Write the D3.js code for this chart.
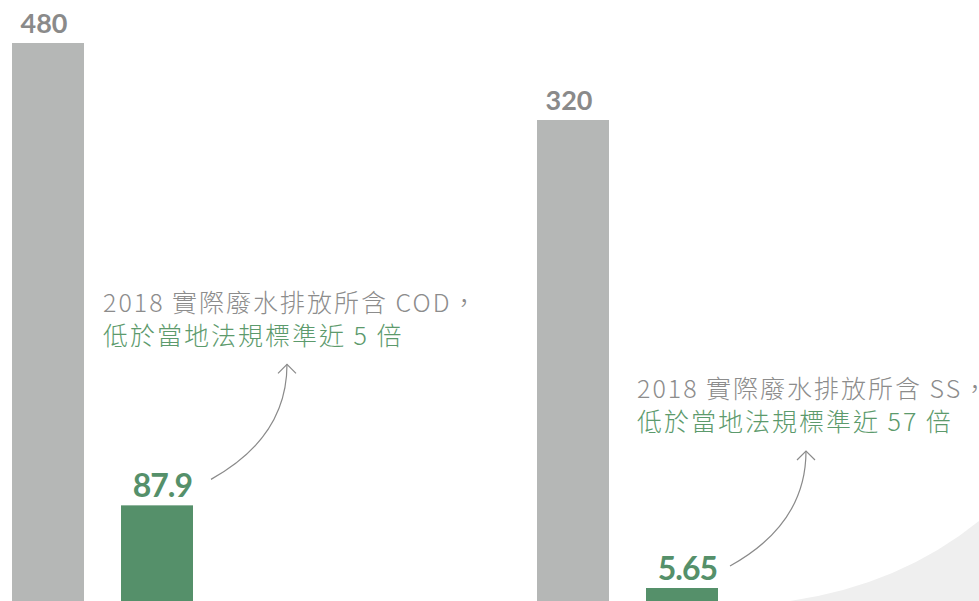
<!DOCTYPE html>
<html>
<head>
<meta charset="utf-8">
<script src="https://cdn.jsdelivr.net/npm/d3@7"></script>
<style>
    html, body { margin: 0; padding: 0; background: #ffffff; overflow: hidden; }
    .note { font-family: "Noto Sans CJK TC", "Noto Sans", sans-serif; font-weight: 300; font-size: 25px; letter-spacing: 2px; }
    .limit-label { font-family: Lato, "Noto Sans", sans-serif; font-weight: 700; font-size: 27px; fill: #8a8a8a; }
    .actual-label { font-family: Lato, "Noto Sans", sans-serif; font-weight: 700; font-size: 32px; fill: #55906a; letter-spacing: -1px; }
</style>
</head>
<body>
<script>
    // Pollutants and values (mg/L)
    var pollutants = ["COD", "SS"];
    var limitValues = [480, 320];      // local regulation standard
    var actualValues = [87.9, 5.65];   // 2018 actual discharge

    var noteLine1 = ["2018 實際廢水排放所含 COD，", "2018 實際廢水排放所含 SS，"];
    var noteLine2 = ["低於當地法規標準近 5 倍", "低於當地法規標準近 57 倍"];

    var width = 979;
    var height = 601;
    var baseline = 609;
    var barWidth = 72;
    var minBarHeight = 21;

    var svg = d3.select("body")
        .append("svg")
        .attr("width", width)
        .attr("height", height);

    // Light background swoosh, bottom right
    svg.append("path")
        .attr("d", "M790,601 Q900,585 979,521 L979,601 Z")
        .style("fill", "#efefef");

    // Group positions
    var groupX = d3.scalePoint()
        .domain(pollutants)
        .range([12, 537]);

    // Each pollutant has its own vertical scale
    var topY = { COD: 43, SS: 120 };
    var yScales = pollutants.map(function (p, i) {
        return d3.scaleLinear()
            .domain([0, limitValues[i]])
            .range([baseline, topY[p]]);
    });

    var data = pollutants.map(function (p, i) {
        return { name: p, limit: limitValues[i], actual: actualValues[i], y: yScales[i], i: i };
    });

    var gap = 37;

    var groups = svg.selectAll(".group")
        .data(data)
        .enter()
        .append("g")
        .attr("class", "group")
        .attr("transform", function (d) { return "translate(" + groupX(d.name) + ",0)"; });

    // Limit bars (gray)
    groups.append("rect")
        .attr("x", 0)
        .attr("width", barWidth)
        .attr("y", function (d) { return d.y(d.limit); })
        .attr("height", function (d) { return baseline - d.y(d.limit); })
        .style("fill", "#b5b7b6");

    groups.append("text")
        .attr("class", "limit-label")
        .attr("x", barWidth / 2 - 4)
        .attr("y", function (d) { return d.y(d.limit) - 10; })
        .attr("text-anchor", "middle")
        .text(function (d) { return d.limit; });

    // Actual bars (green), with a minimum visible height
    function actualTop(d) {
        return Math.min(d.y(d.actual), baseline - minBarHeight);
    }

    groups.append("rect")
        .attr("x", barWidth + gap)
        .attr("width", barWidth)
        .attr("y", actualTop)
        .attr("height", function (d) { return baseline - actualTop(d); })
        .style("fill", "#55906a");

    groups.append("text")
        .attr("class", "actual-label")
        .attr("x", barWidth * 2 + gap - 1)
        .attr("y", function (d) { return actualTop(d) - 8; })
        .attr("text-anchor", "end")
        .text(function (d) { return d.actual; });

    // Notes
    var notes = groups.append("text")
        .attr("class", "note")
        .attr("x", function (d) { return d.i === 0 ? 91 : 100; })
        .attr("y", function (d) { return d.i === 0 ? 312 : 398; });

    notes.append("tspan")
        .style("fill", "#8c8c8c")
        .text(function (d) { return noteLine1[d.i]; });

    notes.append("tspan")
        .attr("x", function (d) { return d.i === 0 ? 91 : 100; })
        .attr("dy", 33)
        .style("fill", "#5c9a6c")
        .text(function (d) { return noteLine2[d.i]; });

    // Curved arrows from green label up to the note
    var arrowDx = [90, 84];
    var arrowDy = [-26, -22];

    function arrowStart(d) {
        return [barWidth + gap + arrowDx[d.i], actualTop(d) + arrowDy[d.i]];
    }

    function arrowPath(d) {
        var s = arrowStart(d);
        var x1 = s[0] + 76;
        var y1 = s[1] - 115;
        return "M" + s[0] + "," + s[1] + " Q" + x1 + "," + (s[1] - 42) + " " + x1 + "," + y1;
    }

    function arrowHead(d) {
        var s = arrowStart(d);
        var x1 = s[0] + 76;
        var y1 = s[1] - 115;
        return "M" + (x1 - 9) + "," + (y1 + 9) + " L" + x1 + "," + y1 + " L" + (x1 + 9) + "," + (y1 + 9);
    }

    groups.append("path")
        .attr("d", arrowPath)
        .style("fill", "none")
        .style("stroke", "#8a8a8a")
        .style("stroke-width", 1.2);

    groups.append("path")
        .attr("d", arrowHead)
        .style("fill", "none")
        .style("stroke", "#8a8a8a")
        .style("stroke-width", 1.2);
</script>
</body>
</html>
